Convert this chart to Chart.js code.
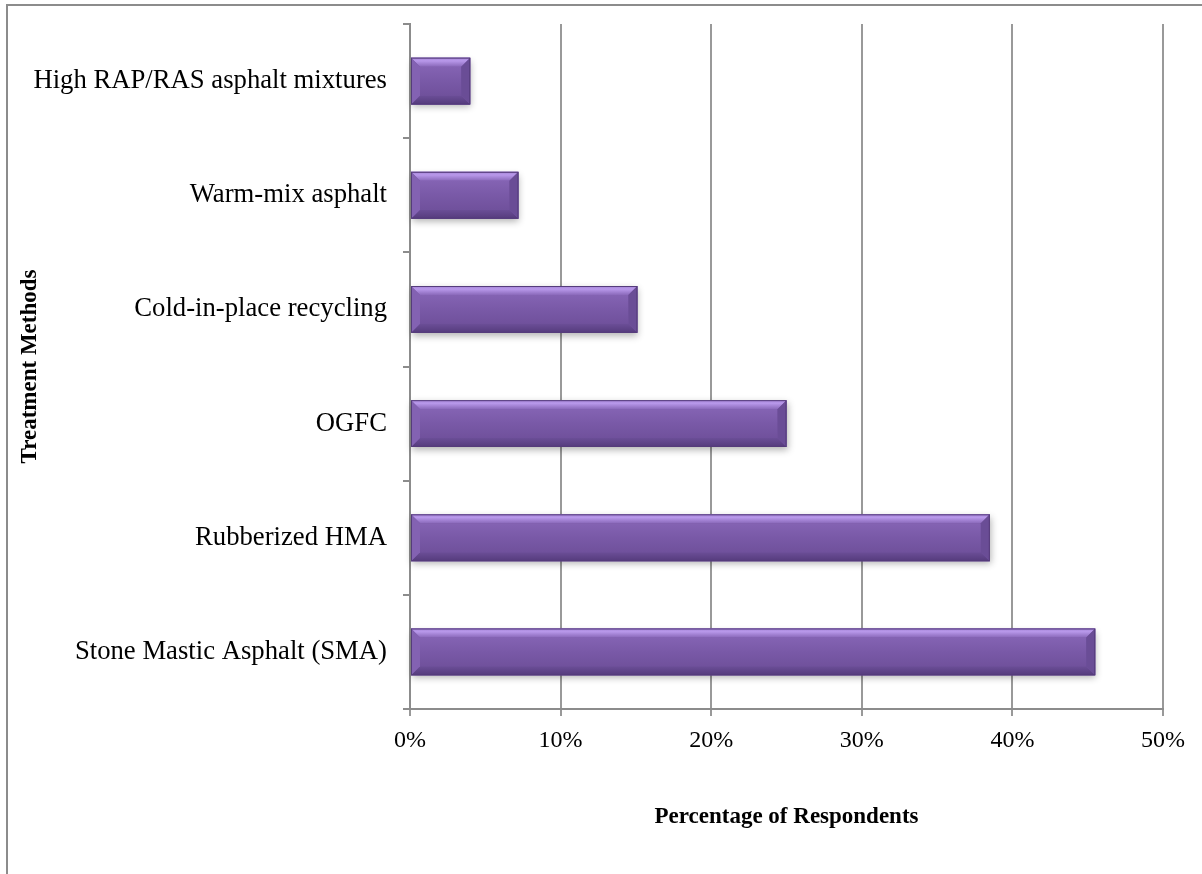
<!DOCTYPE html>
<html>
<head>
<meta charset="utf-8">
<script src="https://cdn.jsdelivr.net/npm/chart.js@4.4.1/dist/chart.umd.min.js"></script>
<style>
  html, body { margin: 0; padding: 0; background: #fff; }
  #frame {
    position: absolute; left: 6px; top: 4px;
    width: 1196px; height: 870px;
    border-left: 2px solid #8c8c8c; border-top: 2px solid #8c8c8c;
  }
  #chart { position: absolute; left: 0; top: 0; }
</style>
</head>
<body>
<div id="frame"><canvas id="chart" width="1194" height="868"></canvas></div>
<script>
const categories = [
    'High RAP/RAS asphalt mixtures',
    'Warm-mix asphalt',
    'Cold-in-place recycling',
    'OGFC',
    'Rubberized HMA',
    'Stone Mastic Asphalt (SMA)'
];
const respondents = [4, 7.2, 15.1, 25, 38.5, 45.5];
const xTicks = [0, 10, 20, 30, 40, 50];

const serif = "'Liberation Serif', 'Times New Roman', serif";

// shadow under each bar, then bevel edges on top (Excel style)
const bevelBars = {
    id: 'bevelBars',
    beforeDatasetsDraw(chart) {
        const ctx = chart.ctx;
        ctx.save();
        chart.getDatasetMeta(0).data.forEach(bar => {
            const h = bar.height;
            ctx.shadowColor = 'rgba(0,0,0,0.3)';
            ctx.shadowBlur = 7;
            ctx.shadowOffsetY = 3;
            ctx.shadowOffsetX = 1;
            ctx.fillStyle = '#7655a3';
            ctx.fillRect(bar.base, bar.y - h / 2, bar.x - bar.base, h);
        });
        ctx.restore();
    },
    afterDatasetsDraw(chart) {
        const ctx = chart.ctx;
        const b = 9;
        ctx.save();
        chart.getDatasetMeta(0).data.forEach(bar => {
            const l = bar.base, r = bar.x;
            const t = bar.y - bar.height / 2, btm = bar.y + bar.height / 2;

            let g = ctx.createLinearGradient(0, t + b, 0, btm - b);
            g.addColorStop(0, '#8463b3');
            g.addColorStop(0.5, '#7959a7');
            g.addColorStop(1, '#70519c');
            ctx.fillStyle = g;
            ctx.fillRect(l + b, t + b, r - l - 2 * b, btm - t - 2 * b);

            // top
            g = ctx.createLinearGradient(0, t, 0, t + b);
            g.addColorStop(0, '#a786d8');
            g.addColorStop(0.35, '#b898ea');
            g.addColorStop(1, '#8a69ba');
            ctx.fillStyle = g;
            ctx.beginPath();
            ctx.moveTo(l, t); ctx.lineTo(r, t); ctx.lineTo(r - b, t + b); ctx.lineTo(l + b, t + b);
            ctx.closePath(); ctx.fill();

            // bottom
            g = ctx.createLinearGradient(0, btm - b, 0, btm);
            g.addColorStop(0, '#6b4e97');
            g.addColorStop(1, '#553b7c');
            ctx.fillStyle = g;
            ctx.beginPath();
            ctx.moveTo(l, btm); ctx.lineTo(r, btm); ctx.lineTo(r - b, btm - b); ctx.lineTo(l + b, btm - b);
            ctx.closePath(); ctx.fill();

            // right end
            ctx.fillStyle = '#6a4d96';
            ctx.beginPath();
            ctx.moveTo(r, t); ctx.lineTo(r, btm); ctx.lineTo(r - b, btm - b); ctx.lineTo(r - b, t + b);
            ctx.closePath(); ctx.fill();

            // left end
            ctx.fillStyle = '#8362b2';
            ctx.beginPath();
            ctx.moveTo(l, t); ctx.lineTo(l, btm); ctx.lineTo(l + b, btm - b); ctx.lineTo(l + b, t + b);
            ctx.closePath(); ctx.fill();

            ctx.strokeStyle = '#553c7b';
            ctx.lineWidth = 1;
            ctx.strokeRect(l + 0.5, t + 0.5, r - l - 1, btm - t - 1);
        });
        ctx.restore();
    }
};

new Chart(document.getElementById('chart'), {
    type: 'bar',
    data: {
        labels: categories,
        datasets: [{
            label: 'Percentage of Respondents',
            data: respondents,
            backgroundColor: '#7655a3',
            borderWidth: 0,
            categoryPercentage: 1,
            barPercentage: 0.41
        }]
    },
    options: {
        indexAxis: 'y',
        responsive: false,
        animation: false,
        layout: { padding: { top: 18, right: 39, left: 0, bottom: 0 } },
        plugins: {
            legend: { display: false },
            tooltip: { enabled: false }
        },
        scales: {
            x: {
                min: 0,
                max: 50,
                afterBuildTicks: axis => { axis.ticks = xTicks.map(v => ({ value: v })); },
                afterFit: axis => { axis.height = 165; },
                grid: { color: '#999', lineWidth: 2, tickLength: 7 },
                border: { color: '#8c8c8c', width: 2 },
                ticks: {
                    color: '#000',
                    padding: 10,
                    font: { family: serif, size: 24 },
                    callback: v => v + '%'
                },
                title: {
                    display: true,
                    text: 'Percentage of Respondents',
                    color: '#000',
                    padding: { top: 0, bottom: 43 },
                    font: { family: serif, size: 23, weight: 'bold' }
                }
            },
            y: {
                afterFit: axis => {
                    axis.width = 402;
                    axis.paddingTop = 0;
                    axis.paddingBottom = 0;
                },
                grid: { drawOnChartArea: false, color: '#8c8c8c', lineWidth: 2, tickLength: 7, offset: true },
                border: { color: '#8c8c8c', width: 2 },
                ticks: {
                    color: '#000',
                    padding: 16,
                    font: { family: serif, size: 26.7 }
                },
                title: {
                    display: true,
                    text: 'Treatment Methods',
                    color: '#000',
                    padding: { top: 8, bottom: 0 },
                    font: { family: serif, size: 23, weight: 'bold' }
                }
            }
        }
    },
    plugins: [bevelBars]
});
</script>
</body>
</html>
